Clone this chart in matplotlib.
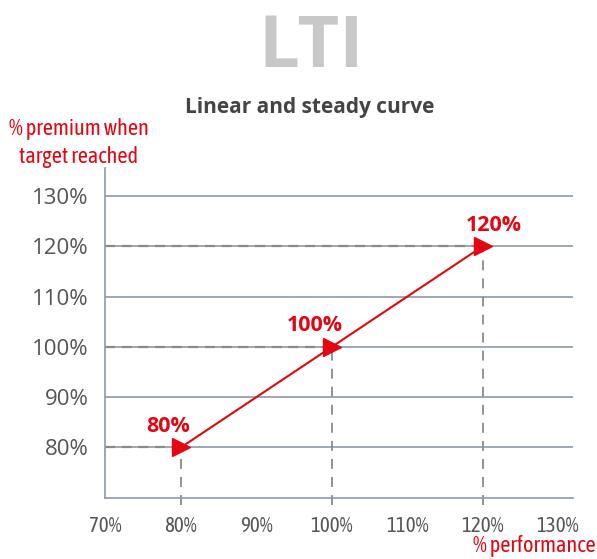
import matplotlib.pyplot as plt

# performance level vs premium paid
performance = [80, 100, 120]
premium = [80, 100, 120]
point_labels = ['80%', '100%', '120%']

y_ticks = [80, 90, 100, 110, 120, 130]
x_ticks = [70, 80, 90, 100, 110, 120, 130]

red = '#e30613'
grid_col = '#8e9aa6'
dash_col = '#8a8a8a'
narrow = ['Asap Condensed', 'DejaVu Sans']

fig = plt.figure(figsize=(5.97, 5.59), dpi=100)
ax = fig.add_axes([0.1767, 0.1097, 0.7833, 0.5898])
ax.set_xlim(70, 132)
ax.set_ylim(70, 135.6)

# horizontal grid
for y in y_ticks:
    ax.axhline(y, color=grid_col, lw=1.2, zorder=1)

for s in ['top', 'right']:
    ax.spines[s].set_visible(False)
for s in ['left', 'bottom']:
    ax.spines[s].set_color(grid_col)
    ax.spines[s].set_linewidth(1.2)

# dashed guides to both axes
for x, y in zip(performance, premium):
    ax.plot([70, x], [y, y], color=dash_col, lw=1.6, dashes=(4.5, 3), zorder=2)
    ax.plot([x, x], [68.6, y], color=dash_col, lw=1.3, dashes=(5.5, 4.5),
            zorder=2, clip_on=False)

ax.plot(performance, premium, color=red, lw=1.5, zorder=3)
ax.plot(performance, premium, linestyle='none', marker='>', ms=13,
        color=red, zorder=4)

offsets = [(-13, 21), (-17, 21), (11, 21)]
for x, y, lab, off in zip(performance, premium, point_labels, offsets):
    ax.annotate(lab, (x, y), xytext=off, textcoords='offset pixels',
                ha='center', va='center', color=red, fontsize=15.5,
                fontweight='bold', family='Open Sans')

ax.set_yticks(y_ticks)
ax.set_yticklabels([f'{v}%' for v in y_ticks], family='Open Sans',
                   fontsize=16, color='#555555')
ax.set_xticks(x_ticks)
ax.set_xticklabels([f'{v}%' for v in x_ticks], family=narrow,
                   fontsize=15, color='#555555')
ax.tick_params(axis='y', length=0, pad=12)
ax.tick_params(axis='x', length=0, pad=13)

fig.text(0.522, 0.915, 'LTI', ha='center', va='center', fontsize=52,
         fontweight='bold', color='#c8c8c8', family='Open Sans')
fig.text(0.519, 0.808, 'Linear and steady curve', ha='center', va='center',
         fontsize=15, fontweight='bold', color='#444444', family='Open Sans')
fig.text(0.132, 0.744, '% premium when\ntarget reached', ha='center',
         va='center', fontsize=16, color=red, family=narrow, linespacing=1.35)
fig.text(0.997, 0.004, '% performance', ha='right', va='bottom',
         fontsize=16, color=red, family=narrow)

fig.savefig('out.png', dpi=100)
